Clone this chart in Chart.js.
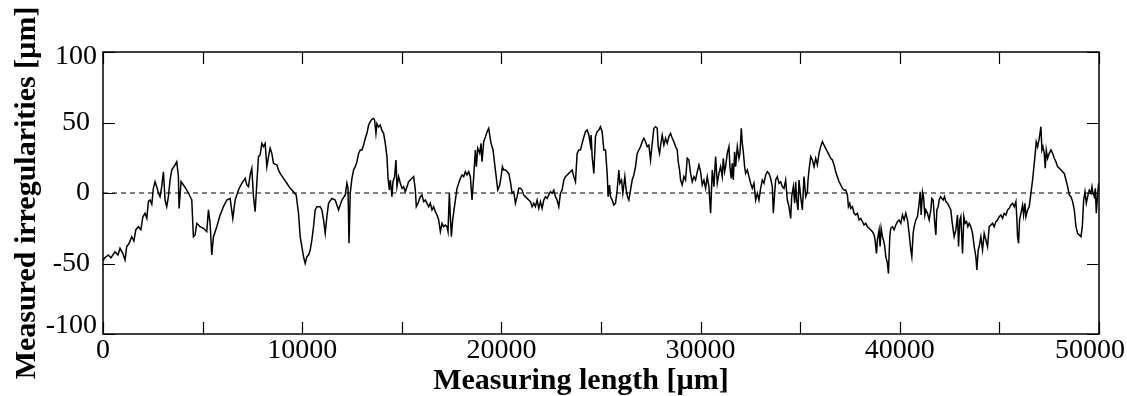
<!DOCTYPE html>
<html>
<head>
<meta charset="utf-8">
<script src="https://cdn.jsdelivr.net/npm/chart.js@4"></script>
<style>
  html, body { margin: 0; padding: 0; background: #fff; }
  #wrap { width: 1127px; height: 396px; }
</style>
</head>
<body>
<div id="wrap"><canvas id="profileChart" width="1127" height="396"></canvas></div>
<script>
// measuring length positions [um]
const measuringLength = [
  0, 67, 268, 400, 603, 750, 854, 1000, 1106, 1189, 1300, 1440, 1550, 1650, 1776, 1900, 2000, 2110, 2200, 2280,
  2362, 2450, 2529, 2613, 2697, 2781, 2864, 2948, 3032, 3116, 3199, 3283, 3367, 3451, 3618, 3702, 3786, 3819, 3920, 4037,
  4154, 4288, 4456, 4539, 4623, 4707, 4874, 5042, 5210, 5293, 5377, 5461, 5545, 5712,
  5879, 6047, 6214, 6382, 6516, 6633, 6800, 6968, 7135, 7219, 7303, 7387, 7470, 7554, 7638, 7722, 7805, 7889, 7973, 8057,
  8140, 8224, 8308, 8392, 8475, 8559, 8727, 8810, 8894, 9062, 9229, 9397, 9564, 9698, 9815, 9899, 9983, 10067, 10150, 10234,
  10318, 10402, 10485, 10569, 10653, 10737, 10904, 10988, 11072, 11155, 11239, 11323, 11490, 11658, 11825, 11993, 12160, 12244, 12300, 12350,
  12412, 12496, 12580, 12664, 12747, 12831, 12915, 12999, 13082, 13166, 13250, 13334, 13417, 13501, 13585, 13635, 13702, 13752, 13836, 13920,
  14004, 14087, 14171, 14255, 14305, 14372, 14422, 14506, 14556, 14640, 14707, 14757, 14841, 14925, 15009, 15092, 15176, 15260, 15344, 15427,
  15511, 15595, 15679, 15729, 15813, 15930, 16014, 16097, 16181, 16265, 16349, 16432, 16516, 16600, 16684, 16767, 16851, 16935, 17019, 17102,
  17186, 17270, 17320, 17387, 17437, 17487, 17554, 17621, 17688, 17772, 17856, 17940, 18024, 18107, 18191, 18275, 18359,
  18442, 18526, 18610, 18693, 18744, 18811, 18911, 18978, 19028, 19112, 19196, 19280, 19363, 19414, 19481, 19581, 19648, 19749, 19816, 19916,
  19983, 20050, 20117, 20201, 20368, 20452, 20536, 20620, 20703, 20787, 20871, 20955, 21038, 21122, 21206, 21290, 21373, 21457, 21541, 21625,
  21708, 21792, 21876, 21960, 22043, 22127, 22211, 22295, 22378, 22462, 22546, 22630, 22713, 22797, 22881, 22965, 23048, 23132, 23216, 23300,
  23383, 23467, 23551, 23635, 23718, 23802, 23886, 23970, 24053, 24137, 24221, 24305, 24388, 24472, 24505, 24556, 24640,
  24723, 24807, 24891, 24974, 25058, 25142, 25226, 25309, 25360, 25427, 25477, 25561, 25644, 25728, 25812, 25896, 25946, 26030, 26097, 26197,
  26264, 26331, 26398, 26482, 26566, 26649, 26733, 26817, 26901, 26984, 27068, 27152, 27236, 27319, 27403, 27487, 27571, 27654, 27738, 27822,
  27872, 27939, 28006, 28073, 28157, 28241, 28324, 28408, 28492, 28576, 28659, 28743, 28827, 28877, 28944, 28994, 29078, 29162, 29246, 29329,
  29413, 29497, 29581, 29664, 29748, 29832, 29916, 29999, 30083, 30167, 30251, 30334, 30418, 30502, 30586, 30669, 30753, 30837, 30921,
  31004, 31088, 31138, 31205, 31255, 31339, 31423, 31473, 31540, 31590, 31641, 31708, 31758, 31842, 31925, 31976, 32043, 32093, 32143, 32210,
  32260, 32344, 32428, 32512, 32595, 32679, 32763, 32847, 32930, 33014, 33098, 33182, 33265, 33349, 33433, 33517, 33600, 33651, 33718, 33768,
  33852, 33935, 34019, 34103, 34187, 34270, 34354, 34438, 34522, 34572, 34656, 34723, 34773, 34823, 34890, 34940, 35024, 35108, 35192, 35275,
  35359, 35393, 35443, 35527, 35610, 35694, 35778, 35862, 35945, 36029, 36113, 36197, 36280, 36364, 36448, 36532, 36615, 36699, 36783, 36867,
  36950, 37034, 37118, 37202,
  37286, 37370, 37420, 37487, 37537, 37621, 37705, 37789, 37872, 37956, 38040, 38124, 38207, 38291, 38375, 38459, 38542, 38626, 38710, 38760,
  38827, 38877, 38961, 39011, 39062, 39129, 39179, 39246, 39296, 39380, 39430, 39497, 39547, 39631, 39715, 39799, 39882, 39966, 40050, 40134,
  40217, 40301, 40385, 40469, 40552, 40603, 40670, 40720, 40804, 40887, 40971, 41021, 41072, 41139, 41189, 41256, 41306, 41390, 41474, 41557,
  41608, 41675, 41742, 41809, 41859, 41926, 41976, 42043, 42110, 42177, 42244, 42311, 42395, 42479, 42562, 42613, 42680, 42730, 42814, 42897,
  42948, 43015, 43065, 43149, 43216, 43283, 43350, 43417, 43484,
  43567, 43651, 43735, 43818, 43869, 43936, 43986, 44070, 44153, 44237, 44321, 44405, 44488, 44572, 44656, 44740, 44823, 44907, 44991, 45075,
  45158, 45242, 45326, 45410, 45493, 45577, 45661, 45745, 45828, 45879, 45912, 45962, 46013, 46080, 46163, 46214, 46281, 46331, 46415, 46498,
  46582, 46666, 46716, 46783, 46850, 46917, 47001, 47085, 47135, 47185, 47252, 47302, 47353, 47420, 47503, 47587, 47671, 47755, 47838, 47922,
  48006, 48090, 48173, 48257, 48341, 48425, 48508, 48592, 48676, 48760, 48843, 48927, 49011, 49095, 49162, 49229, 49296, 49363, 49430, 49513,
  49597, 49647, 49698, 49765, 49815, 49865, 49932, 49982
];

// measured irregularities [um]
const irregularities = [
  -48, -46.3, -44, -46, -41.6, -44, -39.2, -43, -47.5, -38, -36, -31, -34, -26, -23.9, -26, -17, -14.4, -18, -6,
  -5, -8, 3.3, 8, 4.5, 0, -2.6, 4.5, 15.1, -5, -9.7, -2.6, 9.2, 16.3, 19.9, 22.2, 11.6, -10.9, 8, 5.7,
  3.3, 0, -5, -31, -29.8, -21.5, -23.9, -25, -27.4, -12, -21.5, -44, -31, -23.9,
  -15.6, -9.7, -5, -3.8, -18, -5, 2.1, 6.9, 10.4, 5.7, 4.5, 12.8, 17.5, -2.6, -13.2, 6.9, 25.8, 27, 35.2, 32.9,
  35.2, 18.7, 25.8, 31.7, 28.1, 21, 19.9, 16.3, 13.9, 10.4, 6.9, 3.3, 0.9, -1.4, -14.4, -31, -38, -45.2, -49.9, -45.2,
  -44, -40.4, -33.3, -23.9, -12, -9.7, -9.7, -12, -19.1, -28.6, -16.8, -7.3, -3.8, -5, -12, -5, -1.4, 6.9, 3.3, -35.7,
  -0.2, 10.4, 16.3, 18.7, 22.2, 28.1, 30.5, 30.5, 34, 38.8, 42.3, 48.2, 50.6, 52.2, 52.9, 51.8, 42.3, 49.2, 46.8, 48.2,
  44.4, 42.3, 35.2, 25.8, 11.6, 2.1, 9.2, -2.6, 8, 11.6, 23.4, 4.5, 11.6, 6.9, 3.3, 4.5, 0.9, 4.5, 8, 9.2,
  10.4, 11.6, 2.1, -9.7, -7.3, -2.6, -1.4, -6.1, -5, -7.3, -9.7, -7.3, -12, -9.7, -13.2, -15.6, -19.1, -27.4, -21.5, -23.9,
  -22.7, -23.9, -27.4, -0.2, -16.8, -30.9, -19.1, -12, -5, 3.3, 6.9, 10.4, 12.8, 11.6, 15.1, 12.8, 15.1,
  11.6, -5, 11.6, 30.5, 18.7, 31.7, 28.1, 35.2, 22.2, 36.4, 39.7, 43.5, 45.9, 41.1, 35.2, 30.5, 22.2, 10.4, 2.1, 5.7,
  11.6, 18.7, 16.3, 16.3, 13.9, 8, -0.2, 0.9, -7.3, -2.6, 3.3, 3.3, 2.1, -1.4, -2.6, -3.8, -5, -6.1, -9.7, -7.3,
  -9.7, -5, -10.9, -6.1, -10.9, -5, -2.6, -3.8, -1.4, 0.9, -0.2, 2.1, -2.6, -5, -9.7, -0.2, 2.1, 9.2, 11.6, 12.8,
  13.9, 15.1, 16.3, 11.6, 8, 28.1, 30.5, 30.5, 35.2, 39.7, 43.5, 44.7, 41.1, 34, 41.1, 25.8, 13.9,
  40, 43.5, 44.7, 47, 43.5, 30.5, 30.5, 13.9, -2.6, 5.7, -2.6, -5, -8.5, -7.3, 2.1, 16.3, 6.9, 9.2, -0.2, 11.6,
  2.1, -2.6, -5, 2.1, 9.2, 12.8, 18.7, 28.1, 30.5, 32.9, 36.4, 38.8, 36.4, 32.9, 34, 23.4, 35.2, 45.9, 47, 45.9,
  32.9, 28.1, 35.2, 41.1, 34, 38.8, 35.2, 40, 42.3, 38.8, 36.4, 32.9, 30.5, 22.2, 16.3, 9.2, 5.7, 11.6, 9.2, 24.6,
  23.4, 13.9, 8, 11.6, 9.2, 15.1, 19.9, 15.1, 5.7, 9.2, 3.3, 11.6, 4.5, -14.4, 16.3, 4.5, 25.8, 6.9, 13.9,
  18.7, 11.6, 24.6, 15.1, 18.7, 28.1, 32.9, 18.7, 10.4, 21, 9.2, 29.3, 18.7, 32.9, 24.6, 28.1, 45.9, 35.2, 29.3, 18.7,
  13.9, 16.3, 11.6, 6.9, 3.3, 6.9, -5, -0.2, -5, 3.3, 9.2, 6.9, 12.8, 15.1, 13.9, 10.4, 4.5, -14.4, -0.2, 9.2,
  11.6, 6.9, 8, 4.5, 3.3, 9.2, -5, -9.7, -18, -2.6, 4.5, -7.3, 8, -5, -12, 9.2, -2.6, -12, 11.6, -2.6,
  0.9, 9.2, 16.3, 25.8, 23.4, 18.7, 24.6, 19.9, 28.1, 32.9, 36.4, 34, 31.7, 29.3, 27, 24.6, 23.4, 19.9, 15.1, 11.6,
  8, 5.7, 3.3, 2.1,
  2.1, -1.4, -9.7, -7.3, -10.9, -9.7, -14.4, -15.6, -14.4, -19.1, -18, -20.3, -22.7, -21.5, -23.9, -25, -26.2, -27.4, -29.8, -33.3,
  -42.8, -33.3, -26.2, -38, -25, -31, -33.3, -38, -45.2, -49.9, -57, -31, -25, -23.9, -26.2, -22.7, -20.3, -19.1, -21.5, -15.6,
  -19.1, -14.4, -19.1, -28.6, -40.4, -45.2, -28.6, -23.9, -19.1, -16.8, -7.3, 0.9, -15.6, 0.9, -2.6, -15.6, -12, -14.4, -19.1, -12,
  -3.8, -5, -19.1, -29.8, -12, -9.7, -5, -2.6, -3.8, -5, -2.6, -6.1, -7.3, -9.7, -12, -19.1, -26.2, -31, -26.2, -15.6,
  -38, -19.1, -16.8, -42.8, -16.8, -21.5, -20.3, -23.9, -21.5,
  -23.9, -28.6, -38, -45.2, -54.6, -40.4, -38, -31, -40.4, -28.6, -33.3, -38, -23.9, -22.7, -21.5, -23.9, -20.3, -19.1, -16.8, -15.6,
  -18, -14.4, -15.6, -12, -10.9, -8.5, -7.3, -9.7, -6.1, -19.1, -31, -35.7, -19.1, -14.4, -8.5, -15.6, -7.3, -16.8, -12, -9.7,
  -0.2, 9.2, 16.3, 25.8, 36.4, 32.9, 38.8, 47, 30.5, 32.9, 28.1, 17.5, 30.5, 24.6, 28.1, 30.5, 28.1, 24.6, 22.2, 18.7,
  17.5, 16.3, 15.1, 13.9, 9.2, 4.5, -1.4, -2.6, -6.1, -12, -23.9, -28.6, -29.8, -31, -23.9, -5, 0.9, -7.3, -2.6, 2.1,
  -0.2, 4.5, -0.2, -2.6, 3.3, -14.4, -0.2, 6.9
];

const xTicks = [0, 10000, 20000, 30000, 40000, 50000];
const yTicks = [-100, -50, 0, 50, 100];
const xRange = [0, 50000];
const yRange = [-100, 100];

const profilePoints = measuringLength.map((x, i) => ({ x: x, y: irregularities[i] }));
const zeroLine = [{ x: xRange[0], y: 0 }, { x: xRange[1], y: 0 }];

const serif = '"Liberation Serif", "Times New Roman", serif';

// box frame, inward ticks on all four sides, tick labels and axis titles
const framePlugin = {
  id: 'frame',
  afterDraw(chart) {
    const ctx = chart.ctx;
    const area = chart.chartArea;
    const xs = chart.scales.x;
    const ys = chart.scales.y;
    const tick = 12;

    ctx.save();
    ctx.strokeStyle = '#000';
    ctx.lineWidth = 1.5;
    ctx.strokeRect(area.left, area.top, area.right - area.left, area.bottom - area.top);

    ctx.lineWidth = 1.2;
    ctx.beginPath();
    xs.ticks.forEach((t) => {
      const px = Math.round(xs.getPixelForValue(t.value)) + 0.5;
      ctx.moveTo(px, area.bottom);
      ctx.lineTo(px, area.bottom - tick);
      ctx.moveTo(px, area.top);
      ctx.lineTo(px, area.top + tick);
    });
    ys.ticks.forEach((t) => {
      const py = Math.round(ys.getPixelForValue(t.value)) + 0.5;
      ctx.moveTo(area.left, py);
      ctx.lineTo(area.left + tick, py);
      ctx.moveTo(area.right, py);
      ctx.lineTo(area.right - tick, py);
    });
    ctx.stroke();

    ctx.fillStyle = '#000';
    ctx.font = '28px ' + serif;
    ctx.textBaseline = 'middle';

    // x tick labels, the last one kept inside the canvas
    ctx.textAlign = 'center';
    xTicks.forEach((v) => {
      const label = String(v);
      const half = ctx.measureText(label).width / 2;
      let px = xs.getPixelForValue(v);
      px = Math.min(px, chart.width - 2 - half);
      ctx.fillText(label, px, area.bottom + 17);
    });

    // y tick labels; the end labels sit a little inside the frame
    ctx.textAlign = 'right';
    yTicks.forEach((v) => {
      let py = ys.getPixelForValue(v);
      let right = area.left - 13;
      if (v === yRange[1]) { py += 5; right = area.left - 6; }
      if (v === yRange[0]) { py -= 8; right = area.left - 6; }
      ctx.fillText(String(v), right, py);
    });

    ctx.font = 'bold 30px ' + serif;
    ctx.textAlign = 'center';
    ctx.fillText('Measuring length [\u00b5m]', 581, 381);

    ctx.translate(27, 193);
    ctx.rotate(-Math.PI / 2);
    ctx.fillText('Measured irregularities [\u00b5m]', 0, 0);
    ctx.restore();
  }
};

new Chart(document.getElementById('profileChart'), {
  type: 'line',
  data: {
    datasets: [
      {
        data: zeroLine,
        borderColor: '#000',
        borderWidth: 1,
        borderDash: [5, 4],
        pointRadius: 0
      },
      {
        data: profilePoints,
        borderColor: '#000',
        borderWidth: 1.5,
        pointRadius: 0,
        tension: 0
      }
    ]
  },
  options: {
    responsive: false,
    animation: false,
    devicePixelRatio: 1,
    parsing: false,
    layout: { padding: { top: 52, right: 28, bottom: 0, left: 0 } },
    plugins: { legend: { display: false }, tooltip: { enabled: false } },
    scales: {
      x: {
        type: 'linear',
        min: xRange[0],
        max: xRange[1],
        grid: { display: false, drawTicks: false },
        border: { display: false },
        ticks: { stepSize: 5000, display: false },
        afterFit: (s) => { s.height = 62; s.paddingLeft = 0; s.paddingRight = 0; }
      },
      y: {
        min: yRange[0],
        max: yRange[1],
        grid: { display: false, drawTicks: false },
        border: { display: false },
        ticks: { stepSize: 50, display: false },
        afterFit: (s) => { s.width = 103; s.paddingTop = 0; s.paddingBottom = 0; }
      }
    }
  },
  plugins: [framePlugin]
});
</script>
</body>
</html>
